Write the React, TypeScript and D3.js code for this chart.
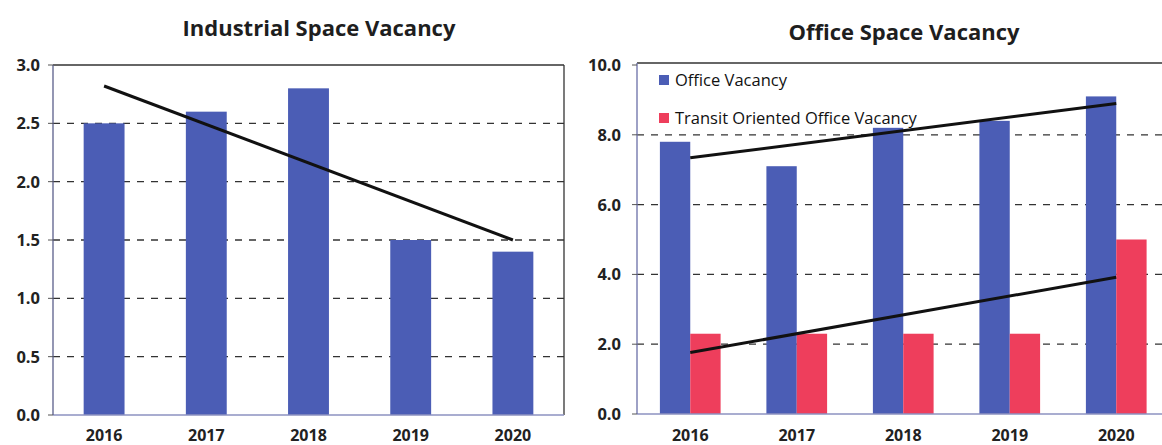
import React from "react";
import * as d3 from "d3";

const years = ["2016", "2017", "2018", "2019", "2020"];
const industrialVacancy = [2.5, 2.6, 2.8, 1.5, 1.4];
const officeVacancy = [7.8, 7.1, 8.2, 8.4, 9.1];
const transitOfficeVacancy = [2.3, 2.3, 2.3, 2.3, 5.0];
const leftTicks = [0, 0.5, 1, 1.5, 2, 2.5, 3];
const rightTicks = [0, 2, 4, 6, 8, 10];

const BLUE = "#4b5db5";
const RED = "#ee3e5c";
const FONT = "'Open Sans', 'DejaVu Sans', sans-serif";
const TICK_FS = 16.5;

function trend(vals: number[]) {
  const n = vals.length;
  const xs = vals.map((_, i) => i);
  const mx = d3.mean(xs)!;
  const my = d3.mean(vals)!;
  let num = 0, den = 0;
  xs.forEach((x, i) => { num += (x - mx) * (vals[i] - my); den += (x - mx) ** 2; });
  const b = num / den;
  return [my - b * mx, my + b * (n - 1 - mx)];
}

export default function App() {
  const W = 1162, H = 445;
  // Left chart
  const lx = d3.scaleBand().domain(years).range([53, 564]).paddingInner(0.6).paddingOuter(0.3);
  const ly = d3.scaleLinear().domain([0, 3]).range([415, 65]);
  const lTrend = trend(industrialVacancy);
  const lLine = d3.line<[number, number]>().x(d => d[0]).y(d => d[1]);
  const lStart: [number, number] = [lx(years[0])! + lx.bandwidth() / 2, ly(lTrend[0])];
  const lEnd: [number, number] = [lx(years[4])! + lx.bandwidth() / 2, ly(lTrend[1])];

  // Right chart
  const rx = d3.scaleBand().domain(years).range([637, 1169.5]).paddingInner(0.43).paddingOuter(0.215);
  const rSub = d3.scaleBand().domain(["office", "transit"]).range([0, rx.bandwidth()]);
  const ry = d3.scaleLinear().domain([0, 10]).range([414, 65]);
  const oTrend = trend(officeVacancy);
  const tTrend = trend(transitOfficeVacancy);
  const rc = (y: string) => rx(y)! + rx.bandwidth() / 2;

  return (
    <svg width={W} height={H} style={{ position: "absolute", left: 0, top: 0, background: "#fff" }}>
      <rect x={0} y={0} width={W} height={H} fill="#fff" />
      {/* Left chart */}
      <text x={319} y={36} textAnchor="middle" fontFamily={FONT} fontWeight={700} fontSize={22} fill="#1e1e1e">
        Industrial Space Vacancy
      </text>
      {leftTicks.filter(t => t > 0 && t < 3).map(t => (
        <line key={t} x1={53} x2={564} y1={ly(t)} y2={ly(t)} stroke="#333" strokeWidth={1.3} strokeDasharray="7,7" />
      ))}
      <line x1={53} x2={564} y1={65} y2={65} stroke="#333" strokeWidth={1.3} />
      <line x1={564} x2={564} y1={65} y2={415} stroke="#333" strokeWidth={1.3} />
      {industrialVacancy.map((v, i) => (
        <rect key={i} x={lx(years[i])} y={ly(v)} width={lx.bandwidth()} height={ly(0) - ly(v)} fill={BLUE} />
      ))}
      <line x1={53} x2={564} y1={415} y2={415} stroke="#8c92c0" strokeWidth={1.3} />
      <line x1={53} x2={53} y1={65} y2={415} stroke="#5a5f8a" strokeWidth={1.3} />
      {leftTicks.map(t => (
        <g key={t}>
          <line x1={48} x2={53} y1={ly(t)} y2={ly(t)} stroke="#555" strokeWidth={1} />
          <text x={40} y={ly(t)} dy="0.36em" textAnchor="end" fontFamily={FONT} fontWeight={700} fontSize={TICK_FS} fill="#222">
            {d3.format(".1f")(t)}
          </text>
        </g>
      ))}
      {years.map(y => (
        <text key={y} x={lx(y)! + lx.bandwidth() / 2} y={441} textAnchor="middle" fontFamily={FONT} fontWeight={700} fontSize={16} fill="#222">
          {y}
        </text>
      ))}
      <path d={lLine([lStart, lEnd])!} stroke="#111" strokeWidth={3} fill="none" />

      {/* Right chart */}
      <text x={904} y={40} textAnchor="middle" fontFamily={FONT} fontWeight={700} fontSize={22} fill="#1e1e1e">
        Office Space Vacancy
      </text>
      {rightTicks.filter(t => t > 0 && t < 10).map(t => (
        <line key={t} x1={637} x2={W} y1={ry(t)} y2={ry(t)} stroke="#333" strokeWidth={1.3} strokeDasharray="7,7" />
      ))}
      <line x1={637} x2={W} y1={63} y2={63} stroke="#333" strokeWidth={1.3} />
      {years.map((y, i) => (
        <g key={y}>
          <rect x={rx(y)! + rSub("office")!} y={ry(officeVacancy[i])} width={rSub.bandwidth()} height={ry(0) - ry(officeVacancy[i])} fill={BLUE} />
          <rect x={rx(y)! + rSub("transit")!} y={ry(transitOfficeVacancy[i])} width={rSub.bandwidth()} height={ry(0) - ry(transitOfficeVacancy[i])} fill={RED} />
        </g>
      ))}
      <line x1={637} x2={W} y1={414} y2={414} stroke="#8c92c0" strokeWidth={1.3} />
      <line x1={637} x2={637} y1={63} y2={414} stroke="#6a6fa8" strokeWidth={1.3} />
      {rightTicks.map(t => (
        <g key={t}>
          <line x1={632} x2={637} y1={ry(t)} y2={ry(t)} stroke="#555" strokeWidth={1} />
          <text x={621} y={ry(t)} dy="0.36em" textAnchor="end" fontFamily={FONT} fontWeight={700} fontSize={TICK_FS} fill="#222">
            {d3.format(".1f")(t)}
          </text>
        </g>
      ))}
      {years.map(y => (
        <text key={y} x={rc(y)} y={441} textAnchor="middle" fontFamily={FONT} fontWeight={700} fontSize={16} fill="#222">
          {y}
        </text>
      ))}
      <path d={lLine([[rc(years[0]), ry(oTrend[0])], [rc(years[4]), ry(oTrend[1])]])!} stroke="#111" strokeWidth={3} fill="none" />
      <path d={lLine([[rc(years[0]), ry(tTrend[0])], [rc(years[4]), ry(tTrend[1])]])!} stroke="#111" strokeWidth={3} fill="none" />
      {/* Legend */}
      <rect x={659} y={75} width={10} height={10} fill={BLUE} />
      <text x={675} y={80} dy="0.36em" fontFamily={FONT} fontSize={16.5} fill="#111">Office Vacancy</text>
      <rect x={659} y={113} width={10} height={10} fill={RED} />
      <text x={675} y={118} dy="0.36em" fontFamily={FONT} fontSize={16.5} fill="#111">Transit Oriented Office Vacancy</text>
    </svg>
  );
}
